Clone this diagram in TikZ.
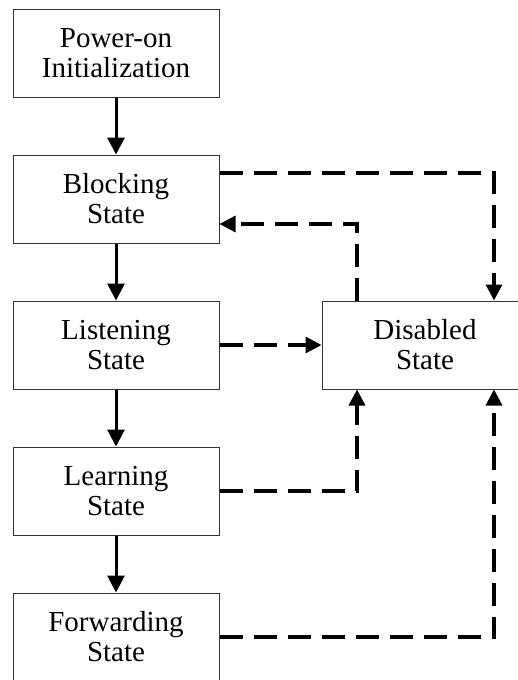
\documentclass[tikz,border=0pt]{standalone}
\usepackage{fontspec}
\setmainfont{Liberation Serif}
\usetikzlibrary{arrows.meta,calc}
\begin{document}
\begin{tikzpicture}[x=1pt,y=-1pt,
 state/.style={draw=black!80, line width=1pt, minimum width=206pt, minimum height=88pt, inner sep=0pt, align=center, font=\fontsize{29}{30}\selectfont},
 flow/.style={line width=3pt, -{Triangle[length=17pt,width=17pt]}},
 dflow/.style={line width=3.3pt, dash pattern=on 23pt off 11pt, -{Triangle[length=16pt,width=16pt]}}]
\useasboundingbox (0,0) rectangle (518,680);
\clip (0,0) rectangle (518,680);
\fill[white] (0,0) rectangle (518,680);
\node[state] (pwr) at (116,53) {Power-on\\Initialization};
\node[state] (blk) at (116,199) {Blocking\\State};
\node[state] (lis) at (116,345) {Listening\\State};
\node[state] (lrn) at (116,491) {Learning\\State};
\node[state] (fwd) at (116,637) {Forwarding\\State};
\node[state] (dis) at (425,345) {Disabled\\State};
\draw[flow] (pwr) -- (blk);
\draw[flow] (blk) -- (lis);
\draw[flow] (lis) -- (lrn);
\draw[flow] (lrn) -- (fwd);
\coordinate (c1) at (494,173);
\coordinate (c2) at (357,224);
\coordinate (c3) at (357,491);
\coordinate (c4) at (494,637);
\draw[dflow] (blk.east |- c1) -- (c1) -- (c1 |- dis.north);
\draw[dflow] (c2 |- dis.north) -- (c2) -- (blk.east |- c2);
\draw[dflow] (lis.east) -- (dis.west);
\draw[dflow] (lrn.east) -- (c3) -- (c3 |- dis.south);
\draw[dflow] (fwd.east) -- (c4) -- (c4 |- dis.south);
\end{tikzpicture}
\end{document}
